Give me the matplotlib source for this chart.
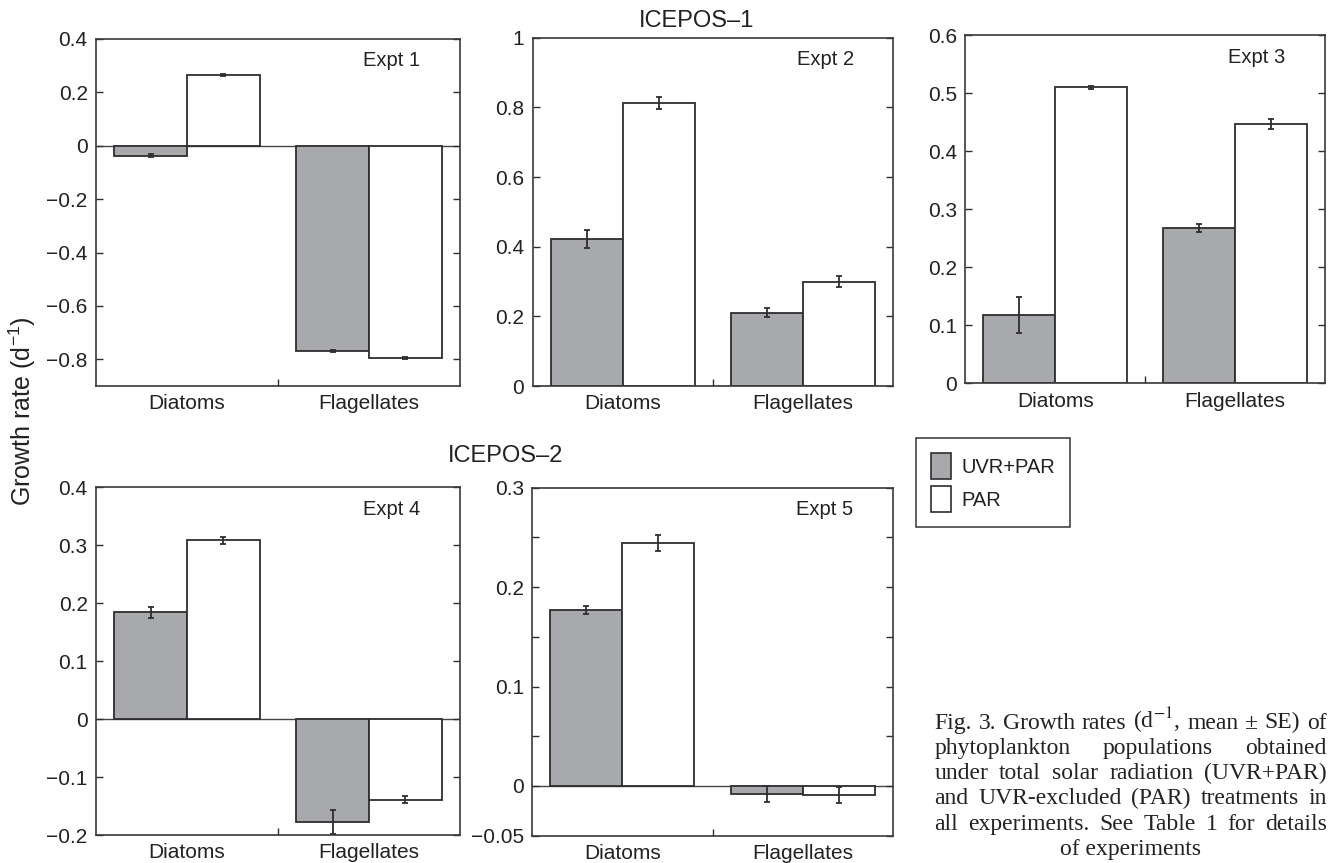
import matplotlib
matplotlib.use("Agg")
import matplotlib.pyplot as plt
import numpy as np
from matplotlib.patches import Patch

plt.rcParams['font.family'] = ['Liberation Sans', 'DejaVu Sans']
plt.rcParams['mathtext.fontset'] = 'custom'
plt.rcParams['mathtext.rm'] = 'Liberation Sans'
plt.rcParams['mathtext.it'] = 'Liberation Sans:italic'

# data (growth rate, d-1, mean and SE)
groups = ['Diatoms', 'Flagellates']
expts = ['Expt 1', 'Expt 2', 'Expt 3', 'Expt 4', 'Expt 5']
uvr_par = [[-0.037, -0.768], [0.422, 0.211], [0.118, 0.268], [0.184, -0.178], [0.177, -0.008]]
uvr_par_se = [[0.005, 0.003], [0.025, 0.012], [0.031, 0.007], [0.010, 0.021], [0.004, 0.008]]
par = [[0.265, -0.796], [0.813, 0.300], [0.510, 0.447], [0.309, -0.139], [0.244, -0.009]]
par_se = [[0.005, 0.003], [0.018, 0.015], [0.002, 0.008], [0.006, 0.006], [0.008, 0.008]]

y_limits = [(-0.9, 0.4), (0, 1), (0, 0.6), (-0.2, 0.4), (-0.05, 0.3)]
y_ticks = [
    [-0.8, -0.6, -0.4, -0.2, 0, 0.2, 0.4],
    [0, 0.2, 0.4, 0.6, 0.8, 1],
    [0, 0.1, 0.2, 0.3, 0.4, 0.5, 0.6],
    [-0.2, -0.1, 0, 0.1, 0.2, 0.3, 0.4],
    [-0.05, 0, 0.05, 0.1, 0.15, 0.2, 0.25, 0.3],
]
y_ticklabels = [
    ['\u22120.8', '\u22120.6', '\u22120.4', '\u22120.2', '0', '0.2', '0.4'],
    ['0', '0.2', '0.4', '0.6', '0.8', '1'],
    ['0', '0.1', '0.2', '0.3', '0.4', '0.5', '0.6'],
    ['\u22120.2', '\u22120.1', '0', '0.1', '0.2', '0.3', '0.4'],
    ['\u22120.05', '0', '', '0.1', '', '0.2', '', '0.3'],
]

caption_lines = [
    'Fig. 3. Growth rates (d$^{-1}$, mean \u00b1 SE) of',
    'phytoplankton populations obtained',
    'under total solar radiation (UVR+PAR)',
    'and UVR-excluded (PAR) treatments in',
    'all experiments. See Table 1 for details',
    'of experiments',
]

W, H = 1335, 863
gray = '#a7a9ac'
dark = '#2e2e2e'
txt = '#222222'

fig = plt.figure(figsize=(W / 100, H / 100), dpi=100)

# axes boxes in pixels: left, top, right, bottom
boxes = [(96, 39, 460, 386), (532.7, 37.7, 893.3, 386), (965.3, 35.3, 1325, 383.3),
         (96, 487.3, 460, 835), (532.3, 487.7, 892.7, 835.7)]

x = np.array([1, 2])
for i, (l, t, r, b) in enumerate(boxes):
    ax = fig.add_axes([l / W, 1 - b / H, (r - l) / W, (b - t) / H])
    ekw = dict(ecolor=dark, elinewidth=1.3, capsize=2.5, capthick=1.3)
    ax.bar(x - 0.2, uvr_par[i], 0.4, color=gray, edgecolor=dark, linewidth=1.3,
           yerr=uvr_par_se[i], error_kw=ekw, zorder=2)
    ax.bar(x + 0.2, par[i], 0.4, color='white', edgecolor=dark, linewidth=1.3,
           yerr=par_se[i], error_kw=ekw, zorder=2)
    ax.axhline(0, color='#444444', linewidth=1.0, zorder=1)
    ax.set_xlim(0.5, 2.5)
    ax.set_ylim(*y_limits[i])
    ax.set_yticks(y_ticks[i])
    ax.set_yticklabels(y_ticklabels[i])
    ax.set_xticks(x)
    ax.set_xticklabels(groups)
    ax.set_xticks([1.5], minor=True)
    ax.tick_params(axis='x', which='major', length=0, pad=6, labelsize=15, colors=txt)
    ax.tick_params(axis='x', which='minor', direction='in', length=5, width=1, color=dark)
    ax.tick_params(axis='y', direction='in', length=5, width=1, right=True, pad=6,
                   labelsize=15, color=dark, labelcolor=txt)
    for s in ax.spines.values():
        s.set_color('#3a3a3a')
        s.set_linewidth(1.2)
    ax.text(0.89, 0.921, expts[i], transform=ax.transAxes, ha='right', va='baseline',
            fontsize=14.5, color=txt)

fig.text(697 / W, 1 - 26.7 / H, 'ICEPOS\u20131', ha='center', va='baseline', fontsize=17, color=txt)
fig.text(506 / W, 1 - 462.3 / H, 'ICEPOS\u20132', ha='center', va='baseline', fontsize=17, color=txt)
fig.text(22 / W, 1 - 411 / H, 'Growth rate (d$^{-1}$)', rotation=90, ha='center', va='center',
         fontsize=18, color=txt)

handles = [Patch(facecolor=gray, edgecolor=dark, linewidth=1.2),
           Patch(facecolor='white', edgecolor=dark, linewidth=1.2)]
leg = fig.legend(handles, ['UVR+PAR', 'PAR'], loc='upper left',
                 bbox_to_anchor=(915.7 / W, 1 - 438.3 / H), bbox_transform=fig.transFigure,
                 borderaxespad=0, fancybox=False, framealpha=1, edgecolor='#333333',
                 fontsize=14.5, handlelength=1.0, handleheight=1.6, handletextpad=0.5,
                 labelspacing=0.35, borderpad=0.75)
leg.get_frame().set_linewidth(1.1)
for t in leg.get_texts():
    t.set_color(txt)

# justified caption
x0, x1 = 934.3, 1326.7
fig.canvas.draw()
rend = fig.canvas.get_renderer()
cap_kw = dict(fontsize=17, family='Liberation Serif', math_fontfamily='stix',
              va='baseline', color=txt)
for i, line in enumerate(caption_lines):
    yb = 1 - (728.5 + 25.3 * i) / H
    if i == len(caption_lines) - 1:
        fig.text((x0 + x1) / 2 / W, yb, line, ha='center', **cap_kw)
        continue
    words = line.split(' ')
    texts = [fig.text(0, yb, w, ha='left', **cap_kw) for w in words]
    widths = [t.get_window_extent(rend).width for t in texts]
    gap = (x1 - x0 - sum(widths)) / (len(words) - 1)
    xp = x0
    for t, wd in zip(texts, widths):
        t.set_x(xp / W)
        xp += wd + gap

fig.savefig('out.png', dpi=100)
